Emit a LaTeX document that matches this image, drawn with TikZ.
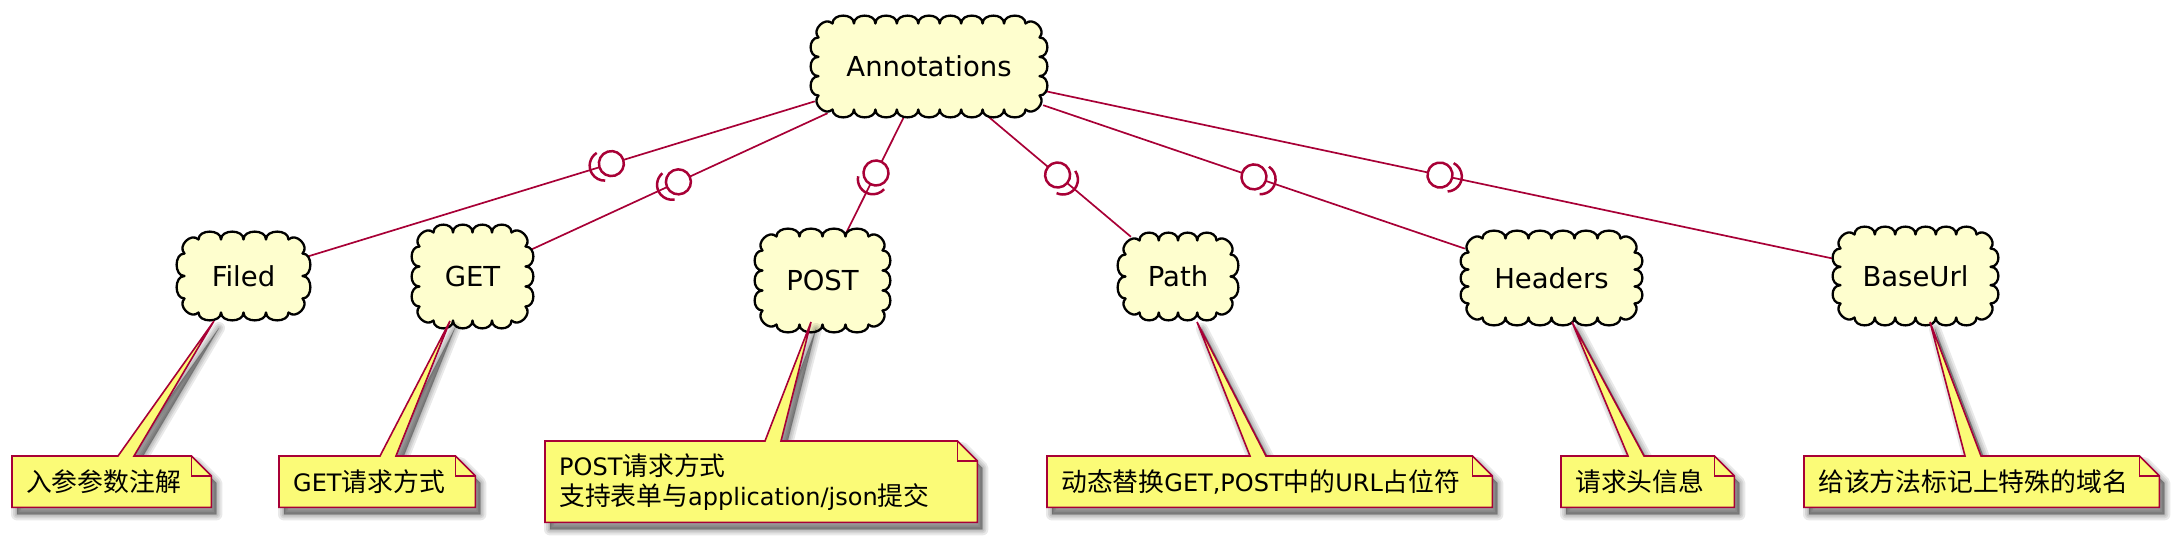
\documentclass[tikz,border=0pt]{standalone}
\usepackage{fontspec}
\setmainfont{DejaVu Sans}
\newfontfamily\cjk[Scale=1.075]{Noto Sans CJK SC}
\usetikzlibrary{calc,decorations.markings}
\definecolor{crim}{HTML}{A80036}
\definecolor{cloudfill}{HTML}{FEFECE}
\definecolor{notefill}{HTML}{FBFB77}
\newcommand\zh[1]{{\cjk #1}}
\pgfdeclarelayer{back}
\pgfdeclarelayer{notebg}
\pgfdeclarelayer{notefg}
\pgfsetlayers{back,main,notebg,notefg}
% bumps along a straight edge from #1 to #2, #3 bumps
\newcommand\bumpline[3]{\foreach \i [evaluate=\i as \ta using (\i-1)/#3, evaluate=\i as \tb using \i/#3] in {1,...,#3} {
  .. controls ($(#1)!\ta!(#2)!10.5pt!90:(#2)$) and ($(#1)!\tb!(#2)!10.5pt!-90:(#1)$) .. ($(#1)!\tb!(#2)$)}}
% cloud outline: cx, cy, w, h, nx, ny
\newcommand\cloudshape[6]{%
  \pgfmathsetmacro\xa{#1-#3/2+7.5}\pgfmathsetmacro\xb{#1+#3/2-7.5}%
  \pgfmathsetmacro\ya{#2-#4/2+7.5}\pgfmathsetmacro\yb{#2+#4/2-7.5}%
  \coordinate (c1) at (\xa+14,\ya); \coordinate (c2) at (\xb-14,\ya);
  \coordinate (c3) at (\xb,\ya+14); \coordinate (c4) at (\xb,\yb-14);
  \coordinate (c5) at (\xb-14,\yb); \coordinate (c6) at (\xa+14,\yb);
  \coordinate (c7) at (\xa,\yb-14); \coordinate (c8) at (\xa,\ya+14);
  \filldraw[cloudline] (c1) \bumpline{c1}{c2}{#5} \bumpline{c2}{c3}{1} \bumpline{c3}{c4}{#6}
    \bumpline{c4}{c5}{1} \bumpline{c5}{c6}{#5} \bumpline{c6}{c7}{1} \bumpline{c7}{c8}{#6}
    \bumpline{c8}{c1}{1} -- cycle;}
% note outline path
\newcommand\nshape[3]{(#1.north west) -- ($(#1.north west)+(#2,0)$) -- (#3) -- ($(#1.north west)+(#2+16,0)$)
    -- ($(#1.north east)+(-20,0)$) -- ($(#1.north east)+(0,20)$) -- (#1.south east) -- (#1.south west) -- cycle}
\newcommand\notebg[3]{%
  \foreach \lw in {12,8,4.5,1.5,0.1} {\filldraw[shadowpass, line width=\lw pt] \nshape{#1}{#2}{#3};}
  \draw[noteshape] \nshape{#1}{#2}{#3};
  \draw[foldline] ($(#1.north east)+(-20,0)$) -- ++(0,20) -- ++(20,0);}
\begin{document}
\begin{tikzpicture}[x=1pt,y=-1pt,
  cloudline/.style={draw=black, line width=2.3pt, fill=cloudfill, line join=round},
  cloudtext/.style={inner sep=0pt, font=\fontsize{27.5}{32}\selectfont},
  conn/.style={draw=crim, line width=1.7pt, postaction={decorate},
    decoration={markings, mark=at position #1 with {
      \draw[crim,line width=2.5pt,fill=white] (0pt,0pt) circle[radius=12.5pt];
      \draw[crim,line width=2.5pt] (7pt,0pt) ++(-75:15pt) arc[start angle=-75,end angle=75,radius=15pt];}}},
  conn/.default=0.5,
  notetext/.style={anchor=north west, inner xsep=14pt, inner ysep=0pt, align=left,
    font=\fontsize{24}{30}\selectfont},
  noteshape/.style={draw=crim, line width=1.6pt, fill=notefill, line join=miter},
  shadowpass/.style={draw=black, fill=black, opacity=0.085, line join=round,
    transform canvas={shift={(5pt,-7pt)}}},
  foldline/.style={draw=crim, line width=1.6pt}
]
\useasboundingbox (0,0) rectangle (2180,543);

% clouds
\cloudshape{929}{66.5}{236}{101}{9}{3}
\node[cloudtext, minimum width=228pt, minimum height=93pt] (Ann) at (929,66.5) {Annotations};
\cloudshape{243.5}{276}{133}{88}{4}{2}
\node[cloudtext, minimum width=125pt, minimum height=80pt] (Filed) at (243.5,276) {Filed};
\cloudshape{472.5}{276.5}{121}{103}{4}{3}
\node[cloudtext, minimum width=113pt, minimum height=95pt] (GET) at (472.5,276.5) {GET};
\cloudshape{822.5}{280.5}{135}{103}{4}{3}
\node[cloudtext, minimum width=127pt, minimum height=95pt] (POST) at (822.5,280.5) {POST};
\cloudshape{1178}{276.5}{120}{87}{4}{2}
\node[cloudtext, minimum width=112pt, minimum height=79pt] (Path) at (1178,276.5) {Path};
\cloudshape{1551.5}{278}{181}{94}{6}{3}
\node[cloudtext, minimum width=173pt, minimum height=86pt] (Headers) at (1551.5,278) {Headers};
\cloudshape{1915.5}{276}{165}{98}{6}{3}
\node[cloudtext, minimum width=157pt, minimum height=90pt] (BaseUrl) at (1915.5,276) {BaseUrl};

% connectors
\begin{pgfonlayer}{back}
\draw[conn=0.4] (Ann) -- (Filed);
\draw[conn] (Ann) -- (GET);
\draw[conn] (Ann) -- (POST);
\draw[conn] (Ann) -- (Path);
\draw[conn] (Ann) -- (Headers);
\draw[conn] (Ann) -- (BaseUrl);
\end{pgfonlayer}

% note pointer apexes
\coordinate (apF) at (214,321);
\coordinate (apG) at (450,321);
\coordinate (apP) at (811,322);
\coordinate (apPa) at (1197,322);
\coordinate (apH) at (1572,322);
\coordinate (apB) at (1930,322);

% notes
\begin{pgfonlayer}{notefg}
\node[notetext, text width=171pt, minimum height=51pt] (nF) at (12,456) {\zh{入参参数注解}};
\node[notetext, text width=168pt, minimum height=51pt] (nG) at (279,456) {GET\zh{请求方式}};
\node[notetext, text width=404pt, minimum height=81pt] (nP) at (545,441) {POST\zh{请求方式}\\\zh{支持表单与}application/json\zh{提交}};
\node[notetext, text width=417pt, minimum height=51pt] (nPa) at (1047,456) {\zh{动态替换}GET,POST\zh{中的}URL\zh{占位符}};
\node[notetext, text width=145pt, minimum height=51pt] (nH) at (1561,456) {\zh{请求头信息}};
\node[notetext, text width=327pt, minimum height=51pt] (nB) at (1804,456) {\zh{给该方法标记上特殊的域名}};
\end{pgfonlayer}

\begin{pgfonlayer}{notebg}
\notebg{nF}{106}{apF}
\notebg{nG}{101}{apG}
\notebg{nP}{220}{apP}
\notebg{nPa}{203}{apPa}
\notebg{nH}{67}{apH}
\notebg{nB}{161}{apB}
\end{pgfonlayer}
\end{tikzpicture}
\end{document}
